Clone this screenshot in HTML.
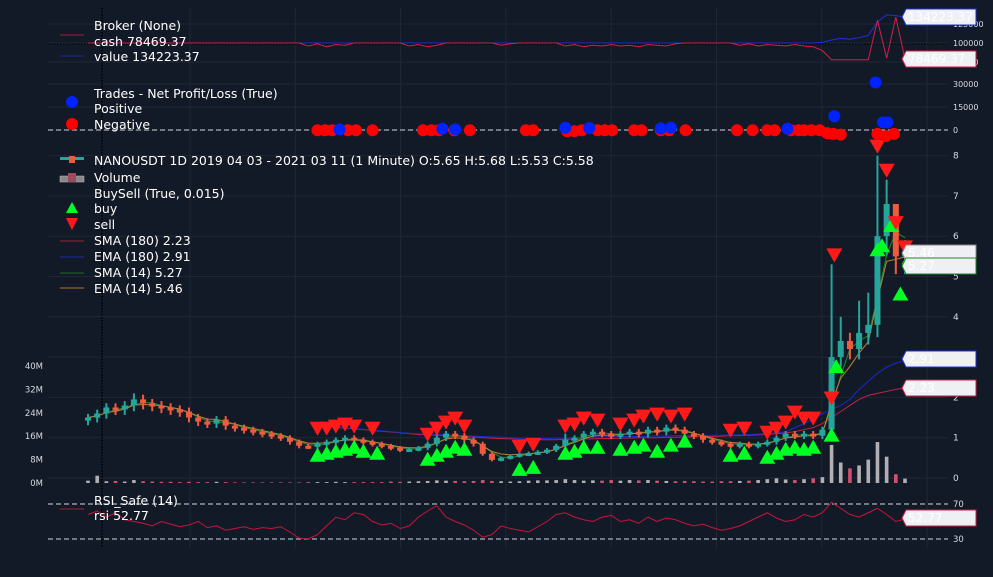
<!DOCTYPE html>
<html><head><meta charset="utf-8"><style>
body{margin:0;background:#131a27;}
svg{display:block;font-family:"DejaVu Sans","Liberation Sans",sans-serif;}
</style></head><body>
<svg id="c" width="993" height="577" viewBox="0 0 993 577"></svg>
<script>
const closes=[1.5,1.6,1.75,1.7,1.8,1.95,1.85,1.8,1.75,1.7,1.65,1.5,1.4,1.35,1.45,1.3,1.25,1.2,1.15,1.1,1.05,1.0,0.9,0.8,0.78,0.85,0.9,0.95,1.0,0.95,0.9,0.85,0.8,0.75,0.7,0.72,0.75,0.85,1.0,1.1,1.05,0.95,0.85,0.6,0.45,0.5,0.55,0.6,0.62,0.65,0.7,0.8,0.95,1.0,1.1,1.15,1.1,1.05,1.1,1.15,1.1,1.2,1.15,1.25,1.2,1.1,1.05,0.95,0.9,0.85,0.8,0.85,0.8,0.85,0.9,1.0,1.1,1.05,1.1,1.05,1.2,3.0,3.4,3.2,3.6,3.8,6.0,6.8,5.5,5.58];
const highs={81:5.3,82:4.0,84:4.4,85:4.6,86:8.0,87:7.4,88:6.1,89:5.9,5:2.1,38:1.15,52:1.1};
const volumes=[0.8,2.5,0.6,0.7,0.5,1,0.6,0.5,0.4,0.4,0.3,0.4,0.3,0.3,0.4,0.3,0.2,0.2,0.2,0.2,0.2,0.2,0.2,0.2,0.3,0.3,0.3,0.4,0.3,0.3,0.3,0.3,0.3,0.5,0.4,0.5,0.6,0.7,0.9,0.8,0.7,0.6,0.7,1.0,0.7,0.6,0.5,0.6,0.8,0.9,0.9,1.0,1.3,1.0,0.8,0.9,0.8,1.0,0.8,1.0,0.9,1.0,0.8,0.7,0.6,0.7,0.6,0.5,0.5,0.6,0.6,0.7,0.8,1.0,1.3,1.6,1.2,1.0,1.3,1.6,2,13,7,5,6,8,14,9,3,1.5];
const sma180=[1.3,1.28,1.26,1.24,1.22,1.2,1.18,1.16,1.14,1.12,1.1,1.08,1.07,1.06,1.05,1.04,1.03,1.02,1.0,0.99,0.98,0.97,0.96,0.95,0.95,0.95,0.95,0.96,0.96,0.97,0.97,0.98,0.98,0.99,0.99,1.0,1.0,1.0,1.01,1.01,1.02,1.02,1.03,1.03,1.04,1.05,1.05,1.06,1.07,1.08,1.1,1.12,1.15,1.2,1.25,1.35,1.5,1.65,1.8,1.95,2.05,2.1,2.15,2.2,2.23];
const ema180=[1.3,1.29,1.27,1.25,1.23,1.21,1.19,1.17,1.15,1.13,1.11,1.1,1.09,1.08,1.07,1.06,1.05,1.04,1.03,1.02,1.01,1.0,0.99,0.99,0.98,0.98,0.99,0.99,1.0,1.01,1.01,1.02,1.02,1.03,1.03,1.03,1.04,1.04,1.04,1.05,1.05,1.05,1.06,1.06,1.06,1.07,1.07,1.08,1.09,1.1,1.12,1.15,1.25,1.35,1.45,1.6,1.7,1.8,1.95,2.2,2.4,2.6,2.75,2.85,2.91];
const rsi=[58,62,55,60,52,50,48,45,50,47,44,46,50,43,45,40,42,44,41,43,42,44,38,31,30,35,45,55,52,60,58,50,46,48,42,45,55,62,68,55,50,46,40,32,35,45,42,40,38,44,50,58,60,55,52,50,55,57,50,52,48,55,50,54,52,48,45,47,43,40,42,45,50,55,60,54,50,52,58,55,60,72,65,58,55,60,65,58,50,52.77];
const cashVals=[100000,100000,100000,100000,100000,100000,100000,100000,100000,100000,100000,100000,100000,100000,100000,100000,100000,100000,100000,100000,100000,100000,100000,100000,96000,99000,95000,98000,97000,100000,100000,100000,100000,100000,100000,96000,98000,95000,97000,100000,100000,100000,100000,100000,100000,97000,99000,100000,100000,100000,100000,100000,96000,98000,95000,97000,96000,98000,96000,97000,95000,98000,97000,96000,99000,100000,100000,100000,100000,100000,100000,97000,99000,96000,98000,97000,96000,98000,96000,95000,90000,78000,78000,78000,78000,78000,130000,80000,134000,78469];
const valueVals=[100000,100000,100000,100000,100000,100000,100000,100000,100000,100000,100000,100000,100000,100000,100000,100000,100000,100000,100000,100000,100000,100000,100000,100000,100000,100000,100000,100000,100000,100000,100000,100000,100000,100000,100000,100000,100000,100000,100000,100000,100000,100000,100000,100000,100000,100000,100000,100000,100000,100000,100000,100000,100000,100000,100000,100000,100000,100000,100000,100000,100000,100000,100000,100000,100000,100000,100000,100000,100000,100000,100000,100000,100000,100000,100000,100000,100000,100000,100000,100000,101000,104000,106000,105000,107000,110000,128000,137000,136000,134223];
const tradeIdx=[25,25.8,26.6,28.3,29.2,31,36.5,37.4,38.2,39.9,41.6,47.7,48.5,52.2,53,53.8,55.5,56.3,57.1,59.5,60.3,62.4,63.3,65.1,70.7,72.4,74,74.8,76.6,77.4,78,78.8,79.7,80.5,81.2,82,86,86.9,87.8];
const tradePnl=[-200,-200,-200,-200,-200,-200,-200,-200,-200,-200,-200,-200,-200,-800,-800,-200,-200,-200,-200,-200,-200,-200,-200,-200,-200,-200,-200,-200,-200,-200,-200,-200,-200,-2000,-2500,-3000,-2500,-4000,-2500];
const winIdx=[27.4,38.6,40,52,54.6,62.4,63.5,76.2,81.3,85.8,86.6,87.1];
const winPnl=[300,800,400,1500,1200,1000,1500,800,9000,31000,5000,5000];
const buyIdx=[25,26,27,28,29,30,31.5,37,38,39,40,41,47,48.5,52,53,54,55.5,58,59.5,60.5,62,63.5,65,70,71.5,74,75,76,77,78,79,81,81.5,86,86.5,87.5,88.5,89.5];
const buyPrice=[0.8,0.85,0.9,0.95,1.0,0.9,0.85,0.7,0.8,0.9,1.0,0.95,0.45,0.5,0.85,0.9,1.0,1.0,0.95,1.0,1.05,0.9,1.05,1.15,0.8,0.85,0.75,0.85,0.95,1.0,0.95,1.0,1.3,3.0,5.9,6.0,6.5,4.8,5.7];
const sellIdx=[25,26,27,28,29,31,37,38,39,40,41,47,48.5,52,53,54,55.5,58,59.5,60.5,62,63.5,65,70,71.5,74,75,76,77,78,79,81,81.3,86,87,88,89];
const sellPrice=[1.0,1.0,1.05,1.1,1.05,1.0,0.85,1.0,1.15,1.25,1.05,0.55,0.6,1.05,1.1,1.25,1.2,1.1,1.2,1.3,1.35,1.3,1.35,0.95,1.0,0.9,1.0,1.15,1.4,1.25,1.25,1.75,5.3,8.0,7.4,6.1,5.5];
const priceTicks=[0,1,2,3,4,5,6,7,8];
const volTicks=["0M","8M","16M","24M","32M","40M"];
const brokerTicks=[75000,100000,125000];
const tradeTicks=[0,15000,30000];

const S=document.getElementById('c'),NS='http://www.w3.org/2000/svg';
function el(t,a,p){const e=document.createElementNS(NS,t);for(const k in a)e.setAttribute(k,a[k]);(p||S).appendChild(e);return e;}
const X0=48,X1=948;
const xi=i=>88+i*(817/89);
const py=v=>478-v*40.3;
const vy=m=>483-m*2.925;
const by=v=>43-(v-100000)*19/25000;
const ty=v=>130-v*23/15000;
const ry=v=>539-(v-30)*35/40;
for(let k=0;k<8;k++){const g=el('line',{x1:190+k*105.3,x2:190+k*105.3,y1:8,y2:548,stroke:'#1f2735','stroke-width':1});}
priceTicks.forEach(t=>{const l=el('line',{x1:X0,x2:X1,y1:py(t),y2:py(t),stroke:'#1f2735'});
const tx=el('text',{x:953,y:py(t)+3,fill:'#d6dbe3','font-size':9});tx.textContent=t;});
volTicks.forEach((t,k)=>{const tx=el('text',{x:43,y:vy(k*8)+3,fill:'#d6dbe3','font-size':8.5,'text-anchor':'end'});tx.textContent=t;});
brokerTicks.forEach(t=>{const l=el('line',{x1:X0,x2:X1,y1:by(t),y2:by(t),stroke:'#1f2735'});
const tx=el('text',{x:953,y:by(t)+3,fill:'#d6dbe3','font-size':8});tx.textContent=t;});
tradeTicks.forEach(t=>{const l=el('line',{x1:X0,x2:X1,y1:ty(t),y2:ty(t),stroke:'#1f2735'});
const tx=el('text',{x:953,y:ty(t)+3,fill:'#d6dbe3','font-size':8});tx.textContent=t;});
[ty(0),ry(70),ry(30)].forEach(y=>{const l=el('line',{x1:X0,x2:X1,y1:y,y2:y,stroke:'#aab0ba','stroke-dasharray':'5,3','stroke-width':1.2});});
[70,30].forEach(t=>{const tx=el('text',{x:953,y:ry(t)+3,fill:'#d6dbe3','font-size':8.5});tx.textContent=t;});
let dl=el('line',{x1:X0,x2:X1,y1:by(100000)+1,y2:by(100000)+1,stroke:'#000','stroke-dasharray':'1.5,1.5'});
dl=el('line',{x1:102,x2:102,y1:8,y2:548,stroke:'#000','stroke-dasharray':'1.5,1.5','stroke-width':1.5});
volumes.forEach((v,i)=>{const up=i==0||closes[i]>=closes[i-1];const r=el('rect',{x:xi(i)-1.8,y:vy(v),width:3.6,height:483-vy(v),fill:up?'#b0b0b4':'#d05070'});});
function poly(arr,fx,fy,color,name,w,start){const pts=arr.map((v,i)=>fx(i+(start||0))+','+fy(v)).join(' ');const p=el('polyline',{points:pts,fill:'none',stroke:color,'stroke-width':w||1});return p;}
poly(valueVals,xi,by,'#1f2fd8','value-line');
poly(cashVals,xi,by,'#d0204a','cash-line');
poly(sma180,xi,py,'#c02048','sma180-line',1,25);
poly(ema180,xi,py,'#1a2ad0','ema180-line',1,25);
const s14=[],e14=[];let e=closes[0];
closes.forEach((c,i)=>{const a=closes.slice(Math.max(0,i-2),i+1);s14.push(a.reduce((x,y)=>x+y,0)/a.length);e=e+(c-e)*0.4;e14.push(e);});
poly(s14,xi,py,'#1f8a2a','sma14-line');
poly(e14,xi,py,'#c08030','ema14-line');
closes.forEach((c,i)=>{const o=i?closes[i-1]:c*0.95;const up=c>=o;const col=up?'#26a69a':'#ef5b3f';const h=highs[i]!==undefined?highs[i]:Math.max(o,c)*1.06;const lo=Math.min(o,c)*0.92;
const w=el('line',{x1:xi(i),x2:xi(i),y1:py(h),y2:py(lo),stroke:col,'stroke-width':2});
const b=el('rect',{x:xi(i)-3,y:py(Math.max(o,c)),width:6,height:Math.max(3,Math.abs(py(o)-py(c))),fill:col});});
buyIdx.forEach((d,k)=>{const x=xi(d),y=py(buyPrice[k])+2;const t=el('polygon',{points:`${x-8},${y+14} ${x+8},${y+14} ${x},${y}`,fill:'#00ff22'});});
sellIdx.forEach((d,k)=>{const x=xi(d),y=py(sellPrice[k])-2;const t=el('polygon',{points:`${x-8},${y-14} ${x+8},${y-14} ${x},${y}`,fill:'#ff1a1a'});});
poly(rsi,xi,ry,'#c8143c','rsi-line');
tradeIdx.forEach((d,k)=>{const c=el('circle',{cx:xi(d),cy:ty(tradePnl[k]),r:6,fill:'#ff0000'});});
winIdx.forEach((d,k)=>{const c=el('circle',{cx:xi(d),cy:ty(winPnl[k]),r:6,fill:'#0022ff'});});
function lab(y,txt,border,name){const g=el('g',{});
el('path',{d:`M902,${y} l4,-8 h70 v16 h-70 z`,fill:'#eef0f4',stroke:border,'stroke-width':1},g);
const t=el('text',{x:908,y:y+4,fill:'#ffffff','font-size':12},g);t.textContent=txt;}
lab(17,'134223.37','#2233cc','value-label');lab(59,'78469.37','#cc2244','cash-label');
lab(253,'5.46','#888','ema14-label');lab(266,'5.27','#1f8a2a','sma14-label');
lab(359,'2.91','#2233cc','ema180-label');lab(388,'2.23','#cc2244','sma180-label');
lab(518,'52.77','#cc2244','rsi-label');
function leg(x,y,txt,name){const t=el('text',{x:x,y:y,fill:'#ffffff','font-size':12.5});t.textContent=txt;}
function sw(y,c,name){const l=el('line',{x1:60,x2:84,y1:y,y2:y,stroke:c});}
leg(94,30,'Broker (None)','broker-legend-title');sw(35,'#a0203a','cash-swatch');leg(94,46,'cash 78469.37','cash-legend');sw(56,'#1a2aa0','value-swatch');leg(94,61,'value 134223.37','value-legend');
leg(94,98,'Trades - Net Profit/Loss (True)','trades-legend-title');leg(94,113,'Positive','positive-legend');leg(94,129,'Negative','negative-legend');
let c1=el('circle',{cx:72,cy:102,r:6,fill:'#0022ff'});
c1=el('circle',{cx:72,cy:124,r:6,fill:'#ff0000'});
leg(94,165,'NANOUSDT 1D 2019 04 03 - 2021 03 11 (1 Minute) O:5.65 H:5.68 L:5.53 C:5.58','data-legend');
let r=el('g',{});
el('rect',{x:60,y:157,width:24,height:3,fill:'#26a69a'},r);el('rect',{x:69,y:156,width:6,height:7,fill:'#ef5b3f'},r);
leg(94,182,'Volume','volume-legend');
r=el('g',{});
el('rect',{x:60,y:176,width:24,height:6,fill:'#888',stroke:'#bbb','stroke-width':.5},r);el('rect',{x:68,y:173,width:8,height:9,fill:'#a04a60'},r);
leg(94,198,'BuySell (True, 0.015)','buysell-legend');leg(94,213,'buy','buy-legend');leg(94,229,'sell','sell-legend');
let tp=el('polygon',{points:'66,213 78,213 72,202',fill:'#00ff22'});
tp=el('polygon',{points:'66,218 78,218 72,230',fill:'#ff1a1a'});
sw(241,'#a0203a','sma180-swatch');leg(94,245,'SMA (180) 2.23','sma180-legend');
sw(257,'#1a2aa0','ema180-swatch');leg(94,261,'EMA (180) 2.91','ema180-legend');
sw(273,'#1f6a2a','sma14-swatch');leg(94,277,'SMA (14) 5.27','sma14-legend');
sw(288,'#b07030','ema14-swatch');leg(94,293,'EMA (14) 5.46','ema14-legend');
leg(94,505,'RSI_Safe (14)','rsi-legend-title');sw(509,'#a0203a','rsi-swatch');leg(94,520,'rsi 52.77','rsi-legend');
</script>
</body></html>
